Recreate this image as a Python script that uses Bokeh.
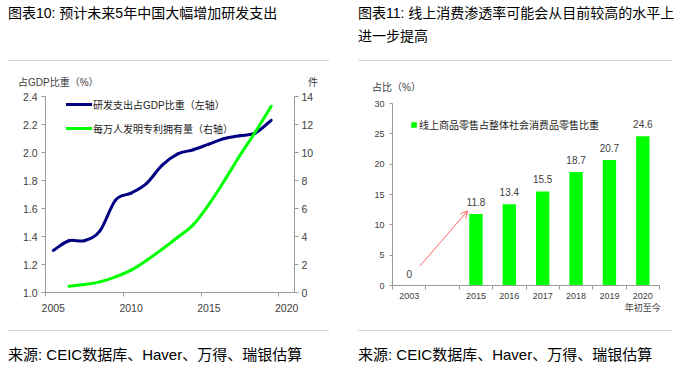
from bokeh.plotting import figure
from bokeh.models import (Range1d, LinearAxis, FixedTicker, PrintfTickFormatter, Legend, LegendItem,
                          LabelSet, ColumnDataSource, Div, Arrow, OpenHead)
from bokeh.layouts import row, column
from bokeh.embed import file_html
from bokeh.resources import INLINE
from bokeh.core.properties import value

# ---------------- data: chart 10 ----------------
title_10 = "图表10: 预计未来5年中国大幅增加研发支出"
rd_years = [2005, 2006, 2007, 2008, 2009, 2010, 2011, 2012, 2013, 2014, 2015, 2016, 2017, 2018, 2019]
rd_share = [1.30, 1.37, 1.37, 1.44, 1.66, 1.71, 1.78, 1.91, 1.99, 2.02, 2.06, 2.10, 2.12, 2.14, 2.23]
pat_years = [2006, 2007, 2008, 2009, 2010, 2011, 2012, 2013, 2014, 2015, 2016, 2017, 2018, 2019]
pat_per10k = [0.45, 0.57, 0.76, 1.12, 1.60, 2.30, 3.10, 3.95, 4.85, 6.30, 8.00, 9.80, 11.50, 13.30]
rd_label = "研发支出占GDP比重（左轴）"
pat_label = "每万人发明专利拥有量（右轴）"
left_unit_10 = "占GDP比重（%）"
right_unit_10 = "件"
x_ticks_10 = [2005, 2010, 2015, 2020]
y_ticks_10_left = [1.0, 1.2, 1.4, 1.6, 1.8, 2.0, 2.2, 2.4]
y_ticks_10_right = [0, 2, 4, 6, 8, 10, 12, 14]

# ---------------- data: chart 11 ----------------
title_11 = "图表11: 线上消费渗透率可能会从目前较高的水平上<br>进一步提高"
cats_11 = ["2003", "", "2015", "2016", "2017", "2018", "2019", "2020\n年初至今"]
share_11 = [0, None, 11.8, 13.4, 15.5, 18.7, 20.7, 24.6]
bar_label_11 = "线上商品零售占整体社会消费品零售比重"
unit_11 = "占比（%）"
y_ticks_11 = [0, 5, 10, 15, 20, 25, 30]

source_text = "来源: CEIC数据库、Haver、万得、瑞银估算"

FONT = "'Liberation Sans', 'Noto Sans CJK SC', sans-serif"
AXIS_GRAY = "#9a9a9a"
TXT = "#404040"
GREEN = "#00ff00"
NAVY = "#000080"
RULE = "#d6d6d6"


def smooth(xs, ys):
    """Catmull-Rom style bezier control points, so the library draws a smooth curve through the points."""
    n = len(xs)
    d = dict(x0=[], y0=[], x1=[], y1=[], cx0=[], cy0=[], cx1=[], cy1=[])
    for i in range(n - 1):
        xp, yp = (xs[i - 1], ys[i - 1]) if i > 0 else (xs[i], ys[i])
        xn, yn = (xs[i + 2], ys[i + 2]) if i + 2 < n else (xs[i + 1], ys[i + 1])
        d["x0"].append(xs[i]); d["y0"].append(ys[i])
        d["x1"].append(xs[i + 1]); d["y1"].append(ys[i + 1])
        d["cx0"].append(xs[i] + (xs[i + 1] - xp) / 6.0)
        d["cy0"].append(ys[i] + (ys[i + 1] - yp) / 6.0)
        d["cx1"].append(xs[i + 1] - (xn - xs[i]) / 6.0)
        d["cy1"].append(ys[i + 1] - (yn - ys[i]) / 6.0)
    return ColumnDataSource(d)


def style_axis(ax, size):
    ax.axis_line_color = AXIS_GRAY
    ax.major_tick_line_color = AXIS_GRAY
    ax.minor_tick_line_color = AXIS_GRAY
    ax.major_label_text_font = FONT
    ax.major_label_text_font_size = size
    ax.major_label_text_color = TXT


def title_div(html, width, inner):
    return Div(width=width, height=62, margin=(0, 0, 0, 0), text=(
        f'<div style="width:{inner}px;height:61px;border-bottom:1px solid {RULE};'
        f'font-family:{FONT};font-size:14px;color:#000;">'
        f'<div style="padding-top:2px;line-height:23px;white-space:nowrap;">{html}</div></div>'))


def unit_div(width, height, items):
    spans = "".join(
        f'<span style="position:absolute;left:{lx}px;top:{ty}px;line-height:14px;white-space:nowrap;">{t}</span>'
        for t, lx, ty in items)
    return Div(width=width, height=height, margin=(0, 0, 0, 0), text=(
        f'<div style="position:relative;width:{width}px;height:{height}px;'
        f'font-family:{FONT};font-size:10px;color:{TXT};">{spans}</div>'))


def source_div(width, inner):
    return Div(width=width, height=36, margin=(0, 0, 0, 0), text=(
        f'<div style="width:{inner}px;height:35px;border-top:1px solid {RULE};'
        f'font-family:{FONT};font-size:15px;color:#000;">'
        f'<div style="padding-top:14px;line-height:20px;white-space:nowrap;">{source_text}</div></div>'))


# ======================= chart 10 =======================
p1 = figure(width=330, height=240, x_range=Range1d(2004.5, 2020.5), y_range=Range1d(1.0, 2.4),
            output_backend="svg", toolbar_location=None,
            min_border_left=37, min_border_right=44, min_border_top=6, min_border_bottom=38)
p1.outline_line_color = None
p1.xgrid.visible = False
p1.ygrid.visible = False
p1.extra_y_ranges = {"pat": Range1d(0, 14)}

p1.xaxis.ticker = FixedTicker(ticks=x_ticks_10, minor_ticks=[t - 0.5 for t in x_ticks_10])
p1.yaxis.ticker = FixedTicker(ticks=y_ticks_10_left)
p1.yaxis.formatter = PrintfTickFormatter(format="%.1f")
right_ax = LinearAxis(y_range_name="pat", ticker=FixedTicker(ticks=y_ticks_10_right))
p1.add_layout(right_ax, "right")
for ax in [p1.xaxis[0], p1.yaxis[0], right_ax]:
    style_axis(ax, "10.5px")
p1.xaxis.major_tick_out = 0
p1.xaxis.major_tick_in = 0
p1.xaxis.minor_tick_out = 4
p1.xaxis.minor_tick_in = 0
p1.xaxis.major_label_standoff = 7
p1.yaxis[0].major_tick_out = 4
p1.yaxis[0].major_tick_in = 0
p1.yaxis[0].minor_tick_line_color = None
p1.yaxis[0].major_label_standoff = 4
right_ax.major_tick_out = 4
right_ax.major_tick_in = 0
right_ax.minor_tick_line_color = None
right_ax.major_label_standoff = 3

r_rd = p1.bezier(x0="x0", y0="y0", x1="x1", y1="y1", cx0="cx0", cy0="cy0", cx1="cx1", cy1="cy1",
                 source=smooth(rd_years, rd_share), line_color=NAVY, line_width=3, line_cap="round")
r_pat = p1.bezier(x0="x0", y0="y0", x1="x1", y1="y1", cx0="cx0", cy0="cy0", cx1="cx1", cy1="cy1",
                  source=smooth(pat_years, pat_per10k), line_color=GREEN, line_width=3, line_cap="round",
                  y_range_name="pat")

leg1 = Legend(items=[LegendItem(label=rd_label, renderers=[r_rd]),
                     LegendItem(label=pat_label, renderers=[r_pat])],
              location=(21, 156), border_line_color=None, background_fill_alpha=0,
              padding=0, margin=0, spacing=8, glyph_width=26, glyph_height=16, label_height=16,
              label_standoff=1, label_text_font=FONT, label_text_font_size="10px", label_text_color="#222222")
p1.add_layout(leg1)

# ======================= chart 11 =======================
n11 = len(cats_11)
centers = [i + 0.5 for i in range(n11)]
bx = [c for c, v in zip(centers, share_11) if v is not None]
bt = [v for v in share_11 if v is not None]
bl = [f"{v:g}" for v in bt]
src11 = ColumnDataSource(dict(x=bx, top=bt, lbl=bl))

p2 = figure(width=314, height=234, x_range=Range1d(0, n11), y_range=Range1d(0, 30),
            output_backend="svg", toolbar_location=None,
            min_border_left=34, min_border_right=13, min_border_top=7, min_border_bottom=45)
p2.outline_line_color = None
p2.xgrid.visible = False
p2.ygrid.visible = False
p2.xaxis.ticker = FixedTicker(ticks=centers, minor_ticks=list(range(n11 + 1)))
p2.xaxis.major_label_overrides = {c: lab for c, lab in zip(centers, cats_11)}
p2.yaxis.ticker = FixedTicker(ticks=y_ticks_11)
style_axis(p2.xaxis[0], "9px")
style_axis(p2.yaxis[0], "9px")
p2.xaxis.major_tick_out = 0
p2.xaxis.major_tick_in = 0
p2.xaxis.minor_tick_out = 4
p2.xaxis.minor_tick_in = 0
p2.xaxis.major_label_standoff = 1
p2.yaxis.major_tick_out = 3
p2.yaxis.major_tick_in = 0
p2.yaxis.minor_tick_line_color = None
p2.yaxis.major_label_standoff = 5

r_bar = p2.vbar(x="x", top="top", width=0.4, source=src11, fill_color=GREEN, line_color=None)
p2.add_layout(LabelSet(x="x", y="top", text="lbl", source=src11, y_offset=12,
                       text_font=value(FONT), text_font_size="10px", text_color=TXT,
                       text_align="center", text_baseline="middle"))

leg2 = Legend(items=[LegendItem(label=bar_label_11, renderers=[r_bar])],
              location=(18, 153), border_line_color=None, background_fill_alpha=0,
              padding=0, margin=0, glyph_width=7, glyph_height=7, label_height=7,
              label_standoff=2, label_text_font=FONT, label_text_font_size="10px", label_text_color="#222222")
p2.add_layout(leg2)

p2.add_layout(Arrow(end=OpenHead(size=7, line_color="#ff6060", line_width=1),
                    x_start=centers[0] + 0.32, y_start=share_11[0] + 3.2,
                    x_end=centers[2] - 0.25, y_end=share_11[2] + 0.5,
                    line_color="#ff6060", line_width=1))

# ======================= layout =======================
left = column(title_div(title_10, 350, 321),
              unit_div(350, 28, [(left_unit_10, 10, 13.5), (right_unit_10, 300, 13.5)]),
              p1, source_div(350, 321), spacing=0)
right = column(title_div(title_11, 314, 314),
               unit_div(314, 34, [(unit_11, 14, 19)]),
               p2, source_div(314, 314), spacing=0)
layout = row(left, right, spacing=0, margin=(0, 0, 0, 8))

open("out.html", "w").write(file_html(layout, INLINE))
